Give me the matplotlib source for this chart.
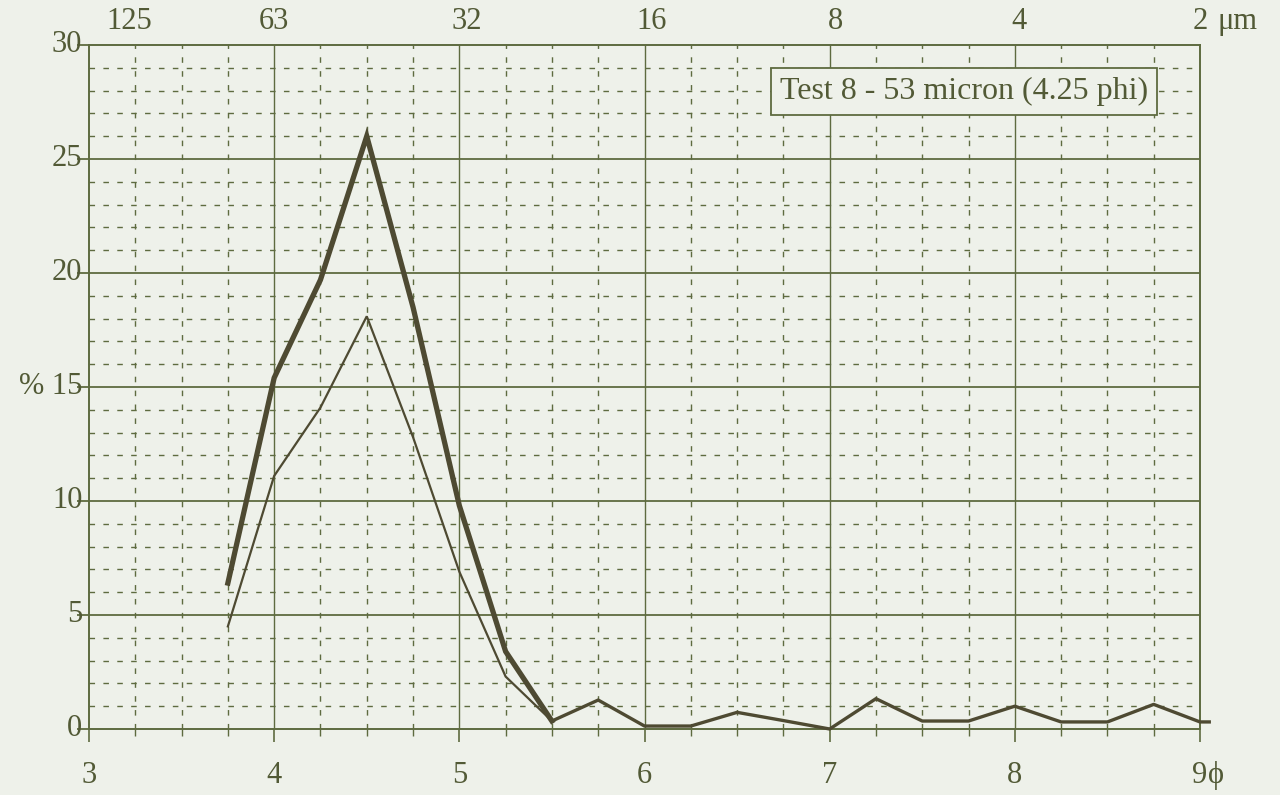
import matplotlib
matplotlib.use("Agg")
import matplotlib.pyplot as plt
import numpy as np

# Grain-size distribution (percent per quarter-phi class)
phi_main = [3.75, 4.0, 4.25, 4.5, 4.75, 5.0, 5.25, 5.5]
pct_thick = [6.4, 15.4, 19.7, 26.0, 18.5, 9.8, 3.4, 0.35]
pct_thin = [4.5, 11.1, 14.1, 18.1, 12.8, 6.9, 2.3, 0.35]

phi_tail = [5.5, 5.75, 6.0, 6.25, 6.5, 6.75, 7.0, 7.25, 7.5, 7.75,
            8.0, 8.25, 8.5, 8.75, 9.0, 9.05]
pct_tail = [0.35, 1.27, 0.13, 0.13, 0.73, 0.37, 0.0, 1.33, 0.35, 0.35,
            1.0, 0.31, 0.31, 1.08, 0.31, 0.31]

phi_ticks = [3, 4, 5, 6, 7, 8, 9]
phi_labels = ["3", "4", "5", "6", "7", "8", "9"]
micron_labels = ["125", "63", "32", "16", "8", "4", "2"]
pct_ticks = [0, 5, 10, 15, 20, 25, 30]
pct_labels = ["0", "5", "10", "% 15", "20", "25", "30"]
title_text = "Test 8 - 53 micron (4.25 phi)"

BG = "#eef1ea"
GRID = "#5e6b40"
LINE = "#4e4a32"
TEXT = "#525a36"

plt.rcParams["font.family"] = ["Liberation Serif", "DejaVu Serif"]

fig = plt.figure(figsize=(12.8, 7.95), dpi=100, facecolor=BG)
ax = fig.add_axes([89 / 1280, 66 / 795, 1111 / 1280, 684 / 795])
ax.set_facecolor(BG)
ax.set_xlim(3, 9)
ax.set_ylim(0, 30)

# minor dashed grid
for y in range(1, 30):
    if y % 5:
        ax.axhline(y, color=GRID, lw=1.0, ls=(0, (4, 6)), zorder=1)
for x in np.arange(3.25, 9, 0.25):
    if abs(x - round(x)) > 1e-6:
        ax.axvline(x, color=GRID, lw=1.0, ls=(0, (4, 6)), zorder=1)
# major solid grid
for y in range(5, 30, 5):
    ax.axhline(y, color=GRID, lw=1.3, zorder=1)
for x in range(4, 9):
    ax.axvline(x, color=GRID, lw=1.0, zorder=1)

for s in ax.spines.values():
    s.set_color(GRID)
    s.set_linewidth(1.4)

# data lines
ax.plot(phi_main, pct_thin, color=LINE, lw=1.6, zorder=3, solid_joinstyle="miter")
ax.plot(phi_main, pct_thick, color=LINE, lw=3.8, zorder=4, solid_joinstyle="miter")
ax.plot(phi_tail, pct_tail, color=LINE, lw=2.4, zorder=4, clip_on=False)

# ticks
ax.set_xticks(phi_ticks)
ax.set_xticks(np.arange(3.25, 9, 0.25), minor=True)
ax.set_yticks(pct_ticks)
ax.tick_params(axis="x", which="major", direction="out", length=9, width=1.2,
               color=GRID, labelbottom=False)
ax.tick_params(axis="x", which="minor", direction="out", length=5, width=1.0,
               color=GRID)
ax.tick_params(axis="y", which="major", direction="out", length=9, width=1.3,
               color=GRID, labelleft=False)

fs = 22
trans_b = ax.get_xaxis_transform()
for x, lab in zip(phi_ticks, phi_labels):
    ax.text(x, -0.068, lab, transform=trans_b, ha="center", va="center",
            fontsize=fs, color=TEXT)
ax.text(9.045, -0.068, "ϕ", transform=trans_b, ha="left", va="center",
        fontsize=fs, color=TEXT)

top_pos = [3.22, 4, 5.04, 6.04, 7.03, 8.02, 9]
for x, lab in zip(top_pos, micron_labels):
    ax.text(x, 1.035, lab, transform=trans_b, ha="center", va="center",
            fontsize=fs, color=TEXT)
ax.text(9.095, 1.035, "μm", transform=trans_b, ha="left", va="center",
        fontsize=fs, color=TEXT)

trans_l = ax.get_yaxis_transform()
for y, lab in zip(pct_ticks, pct_labels):
    ax.text(-0.006, y, lab, transform=trans_l, ha="right", va="center",
            fontsize=fs, color=TEXT)

ax.text(0.788, 0.932, title_text, transform=ax.transAxes, ha="center",
        va="center", fontsize=23, color=TEXT, zorder=6,
        bbox=dict(boxstyle="square,pad=0.28", fc=BG, ec=GRID, lw=1.3))

fig.savefig("out.png", dpi=100, facecolor=BG)
